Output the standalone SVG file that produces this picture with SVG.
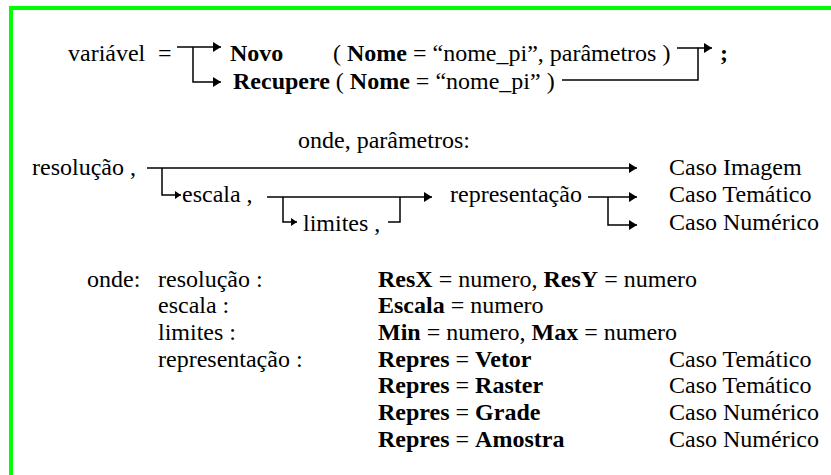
<svg xmlns="http://www.w3.org/2000/svg" width="831" height="475" viewBox="0 0 831 475">
<defs>
<marker id="ah" markerUnits="userSpaceOnUse" markerWidth="9" markerHeight="10" refX="8" refY="5" orient="auto">
<path d="M0,0 L8,5 L0,10 z" fill="#000"/>
</marker>
<marker id="as" markerUnits="userSpaceOnUse" markerWidth="7" markerHeight="8" refX="6" refY="4" orient="auto">
<path d="M0,0 L6,4 L0,8 z" fill="#000"/>
</marker>
</defs>
<rect width="831" height="475" fill="#fff"/>
<path d="M11,475 V8 H831" fill="none" stroke="#00ff00" stroke-width="4"/>

<g id="syntax">
<g id="n-variavel"><text x="68" y="61" font-family="Liberation Serif" font-size="24">variável</text><text x="158" y="61" font-family="Liberation Serif" font-size="24">=</text></g>
<g id="n-novo"><text x="230" y="61" font-family="Liberation Serif" font-size="24" font-weight="bold">Novo</text><text x="333" y="61" font-family="Liberation Serif" font-size="24">( <tspan font-weight="bold">Nome</tspan> = “nome_pi”, parâmetros )</text></g>
<g id="n-recupere"><text x="233" y="89" font-family="Liberation Serif" font-size="24"><tspan font-weight="bold">Recupere</tspan> ( <tspan font-weight="bold">Nome</tspan> = “nome_pi” )</text></g>
<g id="n-semicolon"><text x="720" y="61" font-family="Liberation Serif" font-size="24" font-weight="bold">;</text></g>
</g>

<g id="params">
<g id="n-onde1"><text x="298" y="148" font-family="Liberation Serif" font-size="24">onde, parâmetros:</text></g>
<g id="n-resolucao"><text x="32" y="175" font-family="Liberation Serif" font-size="24">resolução ,</text></g>
<g id="n-escala"><text x="182" y="202" font-family="Liberation Serif" font-size="24">escala ,</text></g>
<g id="n-limites"><text x="303" y="231" font-family="Liberation Serif" font-size="24">limites ,</text></g>
<g id="n-repr"><text x="450" y="202" font-family="Liberation Serif" font-size="24">representação</text></g>
<g id="n-imagem"><text x="669" y="175" font-family="Liberation Serif" font-size="24">Caso Imagem</text></g>
<g id="n-tematico"><text x="669" y="202" font-family="Liberation Serif" font-size="24">Caso Temático</text></g>
<g id="n-numerico"><text x="669" y="230" font-family="Liberation Serif" font-size="24">Caso Numérico</text></g>
</g>

<g id="connectors" fill="none" stroke="#000" stroke-width="1.5">
<path d="M177,47 H221" marker-end="url(#ah)"/>
<path d="M193,47 V82 H221" marker-end="url(#ah)"/>
<path d="M677,48 H698"/>
<path d="M562,80 H698 V48 H712" marker-end="url(#ah)"/>
<path d="M147,168 H637" marker-end="url(#ah)"/>
<path d="M162,168 V195 H181" marker-end="url(#as)"/>
<path d="M267,197 H432" marker-end="url(#ah)"/>
<path d="M283,197 V222 H297" marker-end="url(#as)"/>
<path d="M388,222 H400 V197"/>
<path d="M588,197 H637" marker-end="url(#ah)"/>
<path d="M608,197 V225 H637" marker-end="url(#ah)"/>
</g>

<g id="definitions">
<g id="n-onde2"><text x="87" y="287" font-family="Liberation Serif" font-size="24">onde:</text></g>
<g id="d-resolucao"><text x="158" y="287" font-family="Liberation Serif" font-size="24">resolução :</text><text x="378" y="287" font-family="Liberation Serif" font-size="24"><tspan font-weight="bold">ResX</tspan> = numero, <tspan font-weight="bold">ResY</tspan> = numero</text></g>
<g id="d-escala"><text x="158" y="313" font-family="Liberation Serif" font-size="24">escala :</text><text x="378" y="313" font-family="Liberation Serif" font-size="24"><tspan font-weight="bold">Escala</tspan> = numero</text></g>
<g id="d-limites"><text x="158" y="340" font-family="Liberation Serif" font-size="24">limites :</text><text x="378" y="340" font-family="Liberation Serif" font-size="24"><tspan font-weight="bold">Min</tspan> = numero, <tspan font-weight="bold">Max</tspan> = numero</text></g>
<g id="d-repr"><text x="158" y="367" font-family="Liberation Serif" font-size="24">representação :</text><text x="378" y="367" font-family="Liberation Serif" font-size="24"><tspan font-weight="bold">Repres</tspan> = <tspan font-weight="bold">Vetor</tspan></text><text x="669" y="367" font-family="Liberation Serif" font-size="24">Caso Temático</text></g>
<g id="d-raster"><text x="378" y="393" font-family="Liberation Serif" font-size="24"><tspan font-weight="bold">Repres</tspan> = <tspan font-weight="bold">Raster</tspan></text><text x="669" y="393" font-family="Liberation Serif" font-size="24">Caso Temático</text></g>
<g id="d-grade"><text x="378" y="420" font-family="Liberation Serif" font-size="24"><tspan font-weight="bold">Repres</tspan> = <tspan font-weight="bold">Grade</tspan></text><text x="669" y="420" font-family="Liberation Serif" font-size="24">Caso Numérico</text></g>
<g id="d-amostra"><text x="378" y="447" font-family="Liberation Serif" font-size="24"><tspan font-weight="bold">Repres</tspan> = <tspan font-weight="bold">Amostra</tspan></text><text x="669" y="447" font-family="Liberation Serif" font-size="24">Caso Numérico</text></g>
</g>
</svg>
